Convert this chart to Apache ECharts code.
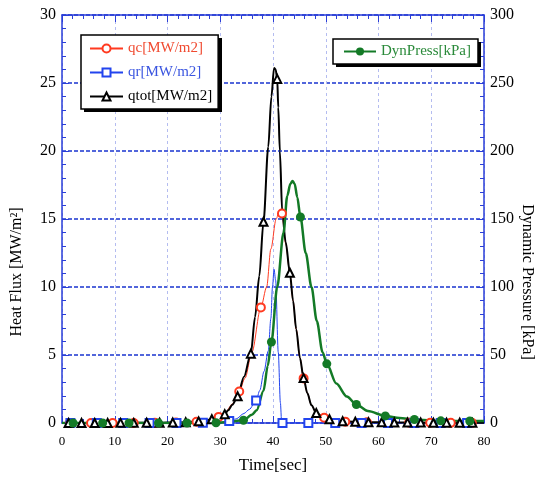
<!DOCTYPE html>
<html>
<head>
<meta charset="utf-8">
<script src="https://cdn.jsdelivr.net/npm/echarts@6/dist/echarts.min.js"></script>
<style>
html, body { margin: 0; padding: 0; background: #fff; }
#main { width: 542px; height: 479px; }
</style>
</head>
<body>
<div id="main"></div>
<script>
// heat flux [MW/m2] and dynamic pressure [kPa] vs time [sec]
// curve points (line only) and marker points (where symbols are drawn)
var qcCurve = [[0,0],[20,0.02],[24,0.05],[27,0.15],[28.5,0.28],[31,0.8],[32.3,1.4],[34.7,3.3],[36,5.2],[38.8,10.0],[39.6,12.8],[40.6,15.0],[41.2,15.6],[42.4,13.2],[43.2,11.0],[43.8,9.0],[44.4,6.9],[45.1,4.8],[46.5,2.2],[47.3,1.3],[48.2,0.72],[51,0.2],[55,0.08],[60,0.04],[80,0.01]];
var qcMarks = [[1.5,0],[5.5,0],[9.6,0],[13.6,0],[17.6,0.01],[21.6,0.03],[25.5,0.09],[29.7,0.45],[33.6,2.32],[37.7,8.5],[41.7,15.4],[45.8,3.28],[49.7,0.38],[53.7,0.1],[57.8,0.05],[61.8,0.03],[65.8,0.02],[69.8,0.02],[73.7,0.01],[77.7,0.01]];

var qrCurve = [[0,0],[28,0.02],[30,0.05],[33,0.3],[34.5,0.7],[35.5,1.0],[37.5,2.4],[38.3,3.8],[39.1,5.3],[39.6,7.7],[39.9,10.0],[40.2,11.3],[40.5,10.5],[41.0,5.2],[41.4,1.5],[41.65,0],[80,0]];
var qrMarks = [[1.6,0],[6.6,0],[11.6,0],[16.6,0],[21.7,0],[26.7,0.01],[31.7,0.15],[36.8,1.65],[41.8,0],[46.7,0],[51.8,0],[56.8,0],[61.8,0],[66.8,0],[71.8,0],[76.8,0]];

var qtotCurve = [[0,0],[20,0.03],[27,0.18],[31.5,0.93],[32.3,1.35],[34.5,3.4],[36.6,7.8],[37.4,10.8],[39.1,20.3],[39.7,24.0],[40.2,26.1],[40.5,26.0],[41.0,23.2],[41.3,20.0],[41.75,15.5],[42.4,13.3],[43.8,9.0],[44.4,6.9],[45.1,4.8],[46.5,2.2],[47.3,1.3],[49.5,0.42],[52,0.17],[57,0.07],[80,0.01]];
var qtotMarks = [[1.25,0],[3.7,0],[6.2,0],[8.65,0],[11.1,0.01],[13.6,0.01],[16.05,0.02],[18.5,0.02],[21.0,0.03],[23.45,0.05],[25.9,0.12],[28.4,0.28],[30.85,0.65],[33.3,1.96],[35.8,5.1],[38.2,14.8],[40.8,25.3],[43.2,11.05],[45.8,3.3],[48.2,0.74],[50.7,0.28],[53.2,0.13],[55.6,0.09],[58.1,0.06],[60.6,0.05],[63.0,0.04],[65.5,0.03],[68.0,0.03],[70.4,0.02],[72.9,0.02],[75.4,0.02],[77.8,0.01]];

var dynCurve = [[0,0],[28,0.1],[31,0.5],[36,6],[36.9,9.3],[38.2,23.7],[39.0,42],[40.8,100],[42.0,140],[42.7,167],[43.3,176],[43.7,178],[44.1,176],[44.6,166],[46.2,125],[47.3,100],[48.3,75],[49.4,52],[52,29],[54,19.5],[58,8.8],[64,3.6],[80,1.4]];
var dynMarks = [[2.1,0],[7.7,0],[12.7,0],[18.3,0],[23.7,0],[29.2,0.2],[34.4,2],[39.7,59.6],[45.2,151.5],[50.2,43.5],[55.8,13.6],[61.3,5.2],[66.8,2.6],[71.8,1.6],[77.3,1.5]];

var names = ['qc[MW/m2]', 'qr[MW/m2]', 'qtot[MW/m2]', 'DynPress[kPa]'];

var font = 'Liberation Serif';
var axisBlue = '#2a3ed8';

// merge line points and marker points, markers keep the series symbol
function build(curve, marks) {
    var pts = curve.map(function (p) { return { value: p, symbol: 'none' }; })
        .concat(marks.map(function (p) { return { value: p }; }));
    pts.sort(function (a, b) { return a.value[0] - b.value[0]; });
    return pts;
}

function frameAxis(extra) {
    var base = {
        type: 'value',
        axisLine: { show: true, onZero: false, lineStyle: { color: axisBlue, width: 1.5 } },
        axisTick: { show: true, inside: true, length: 7, lineStyle: { color: axisBlue } },
        axisLabel: { color: '#000', fontFamily: font, fontSize: 16 },
        splitLine: { show: false }
    };
    for (var k in extra) base[k] = extra[k];
    return base;
}

// ticks only, for the minor ticks inside the frame
function minorAxis(extra) {
    var base = {
        type: 'value',
        axisLine: { show: false, onZero: false },
        axisTick: { show: true, inside: true, length: 4, lineStyle: { color: axisBlue } },
        axisLabel: { show: false },
        splitLine: { show: false }
    };
    for (var k in extra) base[k] = extra[k];
    return base;
}

var myChart = echarts.init(document.getElementById('main'));
var option = {
    animation: false,
    backgroundColor: '#fff',
    grid: { left: 62, right: 58, top: 15, bottom: 46 },
    legend: [{
        data: [
            { name: names[0], textStyle: { color: '#f04a30' } },
            { name: names[1], textStyle: { color: '#3a55e0' } },
            { name: names[2], textStyle: { color: '#000' } }
        ],
        orient: 'vertical',
        left: 81, top: 35,
        itemWidth: 33, itemHeight: 10, itemGap: 9,
        padding: [6, 6, 5, 8],
        backgroundColor: '#fff',
        borderColor: '#000', borderWidth: 1.5,
        textStyle: { fontFamily: font, fontSize: 15 }
    }, {
        data: [{ name: names[3], textStyle: { color: '#2a8a3a' } }],
        left: 333, top: 39,
        itemWidth: 32, itemHeight: 10,
        padding: [5, 7, 5, 10],
        backgroundColor: '#fff',
        borderColor: '#000', borderWidth: 1.5,
        textStyle: { fontFamily: font, fontSize: 15 }
    }],
    xAxis: [
        frameAxis({
            min: 0, max: 80, interval: 10, position: 'bottom',
            axisLabel: { color: '#000', fontFamily: font, fontSize: 13, margin: 12 },
            splitLine: { show: true, lineStyle: { color: '#b4bcf0', type: [3, 3], width: 1 } },
            name: 'Time[sec]', nameLocation: 'middle', nameGap: 34,
            nameTextStyle: { color: '#000', fontFamily: font, fontSize: 17 }
        }),
        frameAxis({ min: 0, max: 80, interval: 10, position: 'top', axisLabel: { show: false } }),
        minorAxis({ min: 0, max: 80, interval: 2, position: 'bottom' }),
        minorAxis({ min: 0, max: 80, interval: 2, position: 'top' })
    ],
    yAxis: [
        frameAxis({
            min: 0, max: 30, interval: 5, position: 'left',
            axisLabel: { color: '#000', fontFamily: font, fontSize: 16, margin: 6 },
            splitLine: { show: true, lineStyle: { color: '#1a35d0', type: [4, 2], width: 1.5 } }
        }),
        frameAxis({
            min: 0, max: 300, interval: 50, position: 'right',
            axisLabel: { color: '#000', fontFamily: font, fontSize: 16, margin: 6 }
        }),
        minorAxis({ min: 0, max: 30, interval: 1, position: 'left' }),
        minorAxis({ min: 0, max: 300, interval: 10, position: 'right' })
    ],
    graphic: [{
        type: 'rect', z: 1, shape: { x: 84, y: 38, width: 138, height: 74 },
        style: { fill: '#000' }
    }, {
        type: 'rect', z: 1, shape: { x: 336, y: 42, width: 145, height: 25 },
        style: { fill: '#000' }
    }, {
        type: 'text', x: 17, y: 272, rotation: Math.PI / 2,
        style: { text: 'Heat Flux [MW/m²]', font: '16px "Liberation Serif"', fill: '#000', textAlign: 'center', textVerticalAlign: 'middle' }
    }, {
        type: 'text', x: 527, y: 282, rotation: -Math.PI / 2,
        style: { text: 'Dynamic Pressure [kPa]', font: '16px "Liberation Serif"', fill: '#000', textAlign: 'center', textVerticalAlign: 'middle' }
    }],
    series: [{
        name: names[0], type: 'line', smooth: 0.3, smoothMonotone: 'x',
        symbol: 'emptyCircle', symbolSize: 8,
        itemStyle: { color: '#ff3a20' },
        lineStyle: { width: 1, color: '#ff3a20' },
        data: build(qcCurve, qcMarks)
    }, {
        name: names[1], type: 'line', smooth: 0.3, smoothMonotone: 'x',
        symbol: 'emptyRect', symbolSize: 8,
        itemStyle: { color: '#2244ee' },
        lineStyle: { width: 1, color: '#2244ee' },
        data: build(qrCurve, qrMarks)
    }, {
        name: names[2], type: 'line', smooth: 0.3, smoothMonotone: 'x',
        symbol: 'emptyTriangle', symbolSize: 8,
        itemStyle: { color: '#000' },
        lineStyle: { width: 2, color: '#000' },
        data: build(qtotCurve, qtotMarks)
    }, {
        name: names[3], type: 'line', yAxisIndex: 1, smooth: 0.3, smoothMonotone: 'x',
        symbol: 'circle', symbolSize: 9,
        itemStyle: { color: '#137a26' },
        lineStyle: { width: 2.5, color: '#137a26' },
        data: build(dynCurve, dynMarks)
    }]
};
myChart.setOption(option);
</script>
</body>
</html>
